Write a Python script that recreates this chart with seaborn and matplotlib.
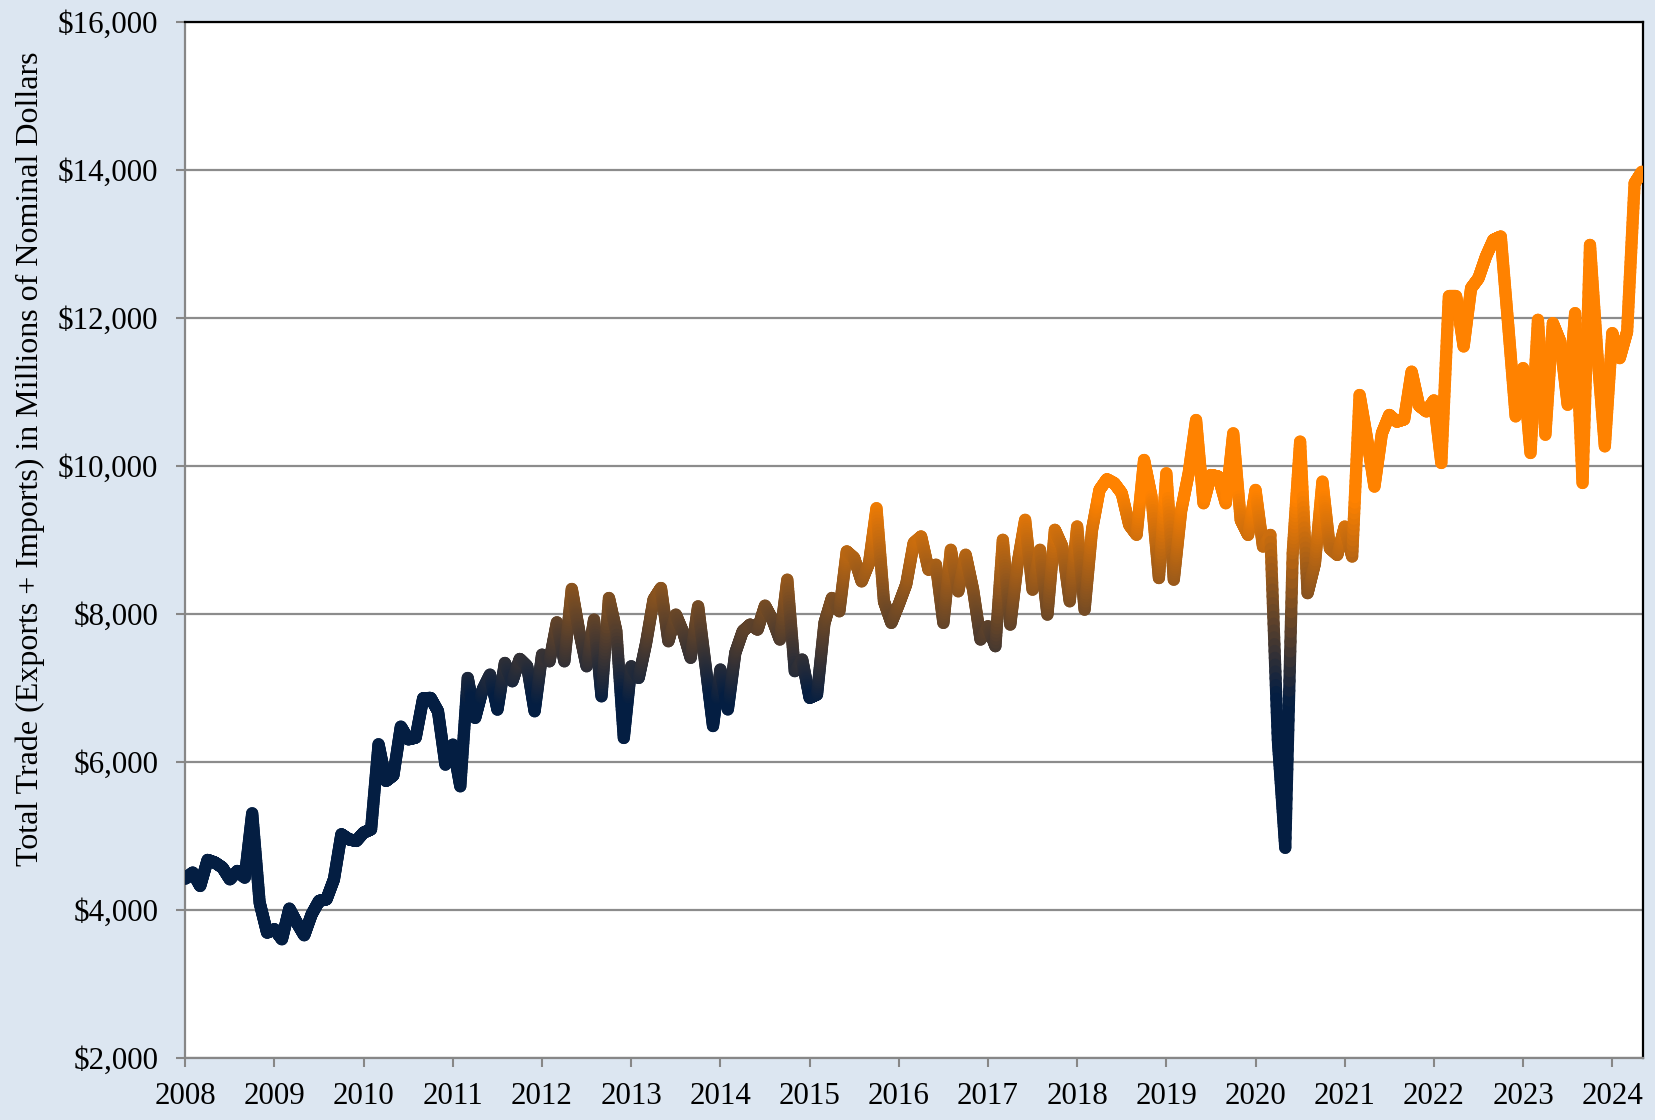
import numpy as np
import pandas as pd
import matplotlib
matplotlib.use("Agg")
import matplotlib.pyplot as plt
import seaborn as sns
from matplotlib.collections import LineCollection
from matplotlib.colors import LinearSegmentedColormap, Normalize
from matplotlib.ticker import FuncFormatter

# Monthly total trade (exports + imports), millions of nominal dollars
trade_2008 = [4423, 4505, 4324, 4676, 4640, 4572, 4414, 4527, 4437, 5306, 4099, 3694]
trade_2009 = [3739, 3604, 4018, 3829, 3658, 3941, 4122, 4144, 4414, 5023, 4955, 4932]
trade_2010 = [5045, 5090, 6239, 5743, 5820, 6477, 6306, 6329, 6860, 6865, 6685, 5964]
trade_2011 = [6234, 5671, 7135, 6595, 6977, 7180, 6707, 7338, 7090, 7392, 7293, 6685]
trade_2012 = [7450, 7360, 7887, 7360, 8338, 7766, 7293, 7923, 6887, 8216, 7766, 6324]
trade_2013 = [7293, 7135, 7608, 8194, 8351, 7631, 7991, 7750, 7407, 8103, 7300, 6485]
trade_2014 = [7249, 6710, 7474, 7766, 7856, 7789, 8112, 7924, 7654, 8463, 7227, 7384]
trade_2015 = [6867, 6912, 7879, 8216, 8036, 8845, 8755, 8440, 8688, 9429, 8171, 7879]
trade_2016 = [8130, 8400, 8957, 9047, 8598, 8665, 7879, 8867, 8306, 8800, 8328, 7654]
trade_2017 = [7834, 7564, 9002, 7856, 8688, 9272, 8328, 8867, 7991, 9137, 8912, 8171]
trade_2018 = [9182, 8058, 9137, 9676, 9820, 9766, 9631, 9204, 9070, 10081, 9587, 8485]
trade_2019 = [9901, 8463, 9400, 9900, 10621, 9496, 9878, 9856, 9496, 10441, 9271, 9068]
trade_2020 = [9676, 8911, 9068, 6300, 4840, 8820, 10329, 8281, 8686, 9788, 8888, 8798]
trade_2021 = [9181, 8776, 10959, 10371, 9721, 10441, 10689, 10599, 10630, 11274, 10815, 10737]
trade_2022 = [10886, 10040, 12290, 12290, 11615, 12402, 12537, 12830, 13055, 13100, 11900, 10670]
trade_2023 = [11322, 10175, 11975, 10422, 11930, 11682, 10827, 12065, 9770, 12987, 11500, 10265]
trade_2024 = [11795, 11457, 11817, 13820, 13977]

year_ticks = list(range(2008, 2025))
value_ticks = [2000, 4000, 6000, 8000, 10000, 12000, 14000, 16000]
y_label = "Total Trade (Exports + Imports) in Millions of Nominal Dollars"

NAVY = "#041E42"
ORANGE = "#FF8200"
BG = "#DCE6F1"
GRID = "#8C8C8C"

values = (trade_2008 + trade_2009 + trade_2010 + trade_2011 + trade_2012 +
          trade_2013 + trade_2014 + trade_2015 + trade_2016 + trade_2017 +
          trade_2018 + trade_2019 + trade_2020 + trade_2021 + trade_2022 +
          trade_2023 + trade_2024)
month_index = np.arange(len(values))
df = pd.DataFrame({"date": 2008 + month_index / 12.0, "total": values})

sns.set_style("white")
plt.rcParams["font.family"] = ["Liberation Serif", "DejaVu Serif"]

fig = plt.figure(figsize=(16.56, 11.2), dpi=100, facecolor=BG)
ax = fig.add_axes([0.1119, 0.0554, 0.8801, 0.9250])
ax.set_facecolor("white")

sns.lineplot(data=df, x="date", y="total", ax=ax, color=NAVY, linewidth=8.8)

# Re-stroke the seaborn line with a colour that follows the trade value
base_line = ax.lines[0]
xy = base_line.get_xydata()
base_line.set_visible(False)

steps = 30
dense = [xy[0]]
for p0, p1 in zip(xy[:-1], xy[1:]):
    t = np.linspace(0, 1, steps + 1)[1:, None]
    dense.extend(p0 + (p1 - p0) * t)
dense = np.array(dense)
segments = np.stack([dense[:-1], dense[1:]], axis=1)
mid_vals = 0.5 * (dense[:-1, 1] + dense[1:, 1])

cmap = LinearSegmentedColormap.from_list("navy_orange", [NAVY, ORANGE])
norm = Normalize(vmin=6850, vmax=9600, clip=True)
lc = LineCollection(segments, colors=cmap(norm(mid_vals)), linewidths=8.8,
                    capstyle="round", joinstyle="round", zorder=3)
ax.add_collection(lc)

ax.set_xlim(2008, 2008 + 196.1 / 12.0)
ax.set_ylim(2000, 16000)
ax.set_xticks(year_ticks)
ax.set_xticklabels([str(y) for y in year_ticks])
ax.set_yticks(value_ticks)
ax.yaxis.set_major_formatter(FuncFormatter(lambda v, _: f"${v:,.0f}"))

ax.yaxis.grid(True, color=GRID, linewidth=1.6)
ax.xaxis.grid(False)
ax.set_axisbelow(True)

for side in ("left", "bottom"):
    ax.spines[side].set_color("#878787")
    ax.spines[side].set_linewidth(1.6)
for side in ("top", "right"):
    ax.spines[side].set_color("black")
    ax.spines[side].set_linewidth(1.6)

ax.tick_params(axis="both", which="major", direction="out", bottom=True, left=True,
               length=6.5, width=1.5, color="#878787", labelsize=22.3,
               labelcolor="black")
ax.tick_params(axis="y", pad=13)
ax.tick_params(axis="x", pad=11)

ax.set_xlabel("")
ax.set_ylabel(y_label, fontsize=23, color="black")
ax.yaxis.set_label_coords(-0.0965, 0.578)

fig.savefig("out.png", dpi=100, facecolor=BG)
